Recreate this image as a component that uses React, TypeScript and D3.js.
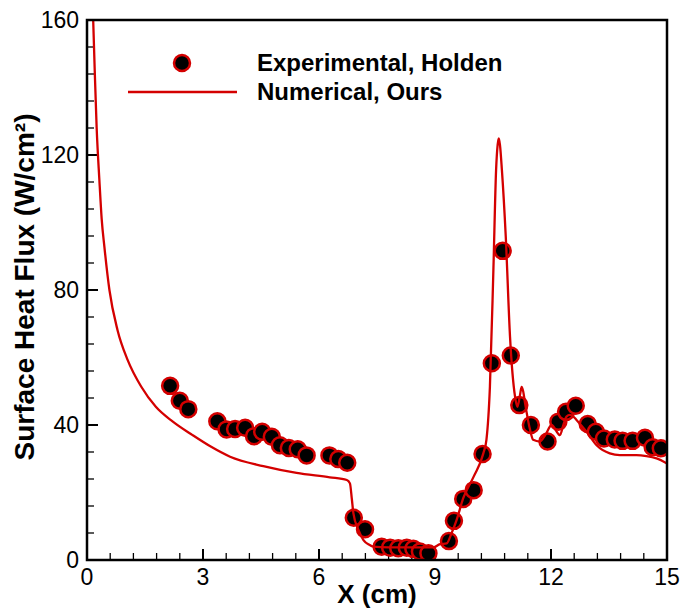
import React from "react";
import * as d3 from "d3";

const expX = [2.15, 2.4, 2.62, 3.37, 3.61, 3.83, 4.09, 4.32, 4.53, 4.78, 4.99, 5.22, 5.45, 5.68, 6.27, 6.5, 6.73, 6.9, 7.19, 7.62, 7.84, 8.05, 8.27, 8.44, 8.61, 8.83, 9.36, 9.49, 9.73, 10.0, 10.23, 10.47, 10.75, 10.96, 11.18, 11.48, 11.91, 12.19, 12.39, 12.64, 12.95, 13.16, 13.37, 13.65, 13.85, 14.11, 14.43, 14.63, 14.84];
const expY = [51.6, 47.2, 44.7, 41.1, 38.7, 38.8, 39.2, 36.7, 38.0, 36.5, 34.0, 33.2, 32.8, 31.0, 31.0, 29.9, 28.8, 12.5, 9.1, 3.95, 3.66, 3.5, 3.66, 3.3, 2.5, 2.0, 5.6, 11.6, 18.1, 20.7, 31.4, 58.3, 91.6, 60.6, 45.9, 40.0, 35.1, 41.0, 43.9, 45.7, 40.3, 38.0, 36.0, 35.7, 35.3, 35.3, 36.2, 33.4, 33.1];

const numX = [0.16, 0.2, 0.25, 0.32, 0.38, 0.45, 0.58, 0.79, 1.05, 1.4, 1.78, 2.22, 2.73, 3.2, 3.7, 4.56, 5.42, 6.28, 6.72, 6.8, 6.85, 6.89, 7.02, 7.15, 7.3, 7.41, 7.6, 8.0, 8.7, 8.96, 9.13, 9.3, 9.43, 9.56, 9.73, 10.0, 10.25, 10.33, 10.42, 10.51, 10.58, 10.62, 10.65, 10.68, 10.73, 10.83, 10.94, 11.07, 11.13, 11.2, 11.24, 11.28, 11.33, 11.46, 11.54, 11.71, 11.85, 12.02, 12.12, 12.23, 12.32, 12.4, 12.49, 12.58, 12.66, 12.92, 13.18, 13.52, 13.78, 14.21, 14.47, 14.73, 15.0];
const numY = [160, 145, 128, 112.6, 101, 92.8, 80, 68.1, 59.3, 51.4, 45.4, 41.0, 37.0, 33.6, 30.6, 27.8, 25.8, 24.5, 23.7, 22.7, 18, 13.8, 8.9, 5.9, 4.5, 3.95, 3.8, 3.75, 3.75, 3.75, 4.7, 4.9, 8, 11.9, 18.3, 24.7, 31.6, 35.6, 51.3, 85.9, 115.6, 123, 124.9, 123, 115.6, 95.8, 66.2, 48.4, 45.4, 49, 51.3, 50, 46.4, 38.5, 35.6, 35.1, 37, 40, 38.5, 37, 40, 42.5, 43, 42.5, 41.5, 38, 34, 31.6, 31.1, 31.1, 30.8, 30.1, 28.6];

const xMajor = [0, 3, 6, 9, 12, 15];
const yMajor = [0, 40, 80, 120, 160];
const legendLabels = ["Experimental, Holden", "Numerical, Ours"];

const W = 684, H = 610;
const L = 87, R = 667, T = 20, B = 560;
const RED = "#d40000";
const FONT = "Arial, 'Liberation Sans', Helvetica, sans-serif";

export default function App() {
  const x = d3.scaleLinear().domain([0, 15]).range([L, R]);
  const y = d3.scaleLinear().domain([0, 160]).range([B, T]);
  const xMinor = d3.range(0, 15.001, 0.6).filter((v) => !xMajor.some((m) => Math.abs(m - v) < 1e-6));
  const yMinor = d3.range(0, 160.001, 8).filter((v) => !yMajor.some((m) => Math.abs(m - v) < 1e-6));
  const line = d3
    .line<number>()
    .x((d, i) => x(numX[i]))
    .y((d, i) => y(numY[i]))
    .curve(d3.curveMonotoneX);

  return (
    <svg width={W} height={H} style={{ position: "absolute", left: 0, top: 0, background: "#fff" }} fontFamily={FONT}>
      <defs>
        <clipPath id="plot">
          <rect x={L} y={T} width={R - L} height={B - T} />
        </clipPath>
      </defs>
      {xMajor.map((v) => (
        <line key={"xM" + v} x1={x(v)} x2={x(v)} y1={B} y2={B - 11} stroke="#000" strokeWidth={2} />
      ))}
      {xMinor.map((v) => (
        <line key={"xm" + v} x1={x(v)} x2={x(v)} y1={B} y2={B - 7} stroke="#000" strokeWidth={1.3} />
      ))}
      {yMajor.map((v) => (
        <line key={"yM" + v} x1={L} x2={L + 11} y1={y(v)} y2={y(v)} stroke="#000" strokeWidth={2} />
      ))}
      {yMinor.map((v) => (
        <line key={"ym" + v} x1={L} x2={L + 7} y1={y(v)} y2={y(v)} stroke="#000" strokeWidth={1.3} />
      ))}
      {xMajor.map((v) => (
        <text key={"xl" + v} x={x(v)} y={585} textAnchor="middle" fontSize={23} fill="#000">
          {v}
        </text>
      ))}
      {yMajor.map((v) => (
        <text key={"yl" + v} x={79} y={y(v) + 8} textAnchor="end" fontSize={23} fill="#000">
          {v}
        </text>
      ))}
      <g clipPath="url(#plot)">
        {expX.map((v, i) => (
          <circle key={"p" + i} cx={x(v)} cy={y(expY[i])} r={8} fill="#000" stroke={RED} strokeWidth={2.5} />
        ))}
        <path d={line(numX) || ""} fill="none" stroke={RED} strokeWidth={2.3} />
      </g>
      <rect x={L} y={T} width={R - L} height={B - T} fill="none" stroke="#000" strokeWidth={2.5} />
      <circle cx={182} cy={63} r={8} fill="#000" stroke={RED} strokeWidth={2.5} />
      <line x1={128} x2={237} y1={92} y2={92} stroke={RED} strokeWidth={2.3} />
      <text x={257} y={71} fontSize={24} fontWeight="bold" fill="#000">
        {legendLabels[0]}
      </text>
      <text x={257} y={100} fontSize={24} fontWeight="bold" fill="#000">
        {legendLabels[1]}
      </text>
      <text x={(L + R) / 2} y={603} textAnchor="middle" fontSize={26} fontWeight="bold" fill="#000">
        X (cm)
      </text>
      <text
        transform={`translate(34, 287) rotate(-90)`}
        textAnchor="middle"
        fontSize={28}
        fontWeight="bold"
        fill="#000"
      >
        Surface Heat Flux (W/cm²)
      </text>
    </svg>
  );
}
